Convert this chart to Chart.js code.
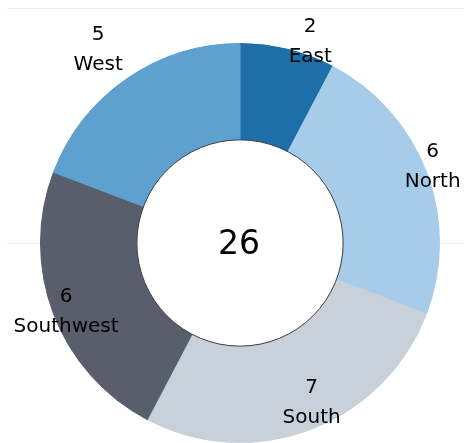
<!DOCTYPE html>
<html lang="en">
<head>
    <meta charset="UTF-8">
    <title>Sales by Region</title>
    <script src="https://cdn.jsdelivr.net/npm/chart.js"></script>
    <style>
        body {
            margin: 0;
            padding: 0;
            background-color: #ffffff;
        }
        .chart-box {
            position: relative;
            width: 464px;
            height: 443px;
        }
    </style>
</head>
<body>
    <div class="chart-box">
        <canvas id="regionChart"></canvas>
    </div>

    <script>
        // Data
        const regions = ['East', 'North', 'South', 'Southwest', 'West'];
        const counts = [2, 6, 7, 6, 5];
        const sliceColors = ['#1c6fa8', '#a6cce9', '#c8d0da', '#585e6b', '#5ea1ce'];

        // label placement tweaks (distance from centre, angle shift in degrees)
        const labelRadius = [213, 207, 175, 187, 240];
        const labelShift = [5.4, -0.7, -3.4, -0.8, -1.6];

        const fontFamily = '"DejaVu Sans", Verdana, sans-serif';

        // faint horizontal rules behind the chart
        const backgroundRules = {
            id: 'backgroundRules',
            beforeDraw(chart) {
                const ctx = chart.ctx;
                ctx.save();
                ctx.strokeStyle = '#eeeeee';
                ctx.lineWidth = 1;
                [8.5, 243.5].forEach(y => {
                    ctx.beginPath();
                    ctx.moveTo(7, y);
                    ctx.lineTo(chart.width, y);
                    ctx.stroke();
                });
                ctx.restore();
            }
        };

        // white hole with a thin outline, total in the middle, slice labels
        const doughnutText = {
            id: 'doughnutText',
            afterDatasetsDraw(chart) {
                const ctx = chart.ctx;
                const arcs = chart.getDatasetMeta(0).data;
                if (!arcs.length) return;
                const cx = arcs[0].x;
                const cy = arcs[0].y;
                const inner = arcs[0].innerRadius;

                ctx.save();
                ctx.beginPath();
                ctx.arc(cx, cy, inner, 0, Math.PI * 2);
                ctx.fillStyle = '#ffffff';
                ctx.fill();
                ctx.strokeStyle = '#3a3a3a';
                ctx.lineWidth = 1;
                ctx.stroke();

                const total = counts.reduce((a, b) => a + b, 0);
                ctx.fillStyle = '#000000';
                ctx.textAlign = 'center';
                ctx.textBaseline = 'middle';
                ctx.font = '33px ' + fontFamily;
                ctx.fillText(String(total), cx - 1, cy + 2);

                ctx.font = '20px ' + fontFamily;
                arcs.forEach((arc, i) => {
                    const mid = (arc.startAngle + arc.endAngle) / 2 + labelShift[i] * Math.PI / 180;
                    const x = cx + Math.cos(mid) * labelRadius[i];
                    const y = cy + Math.sin(mid) * labelRadius[i];
                    ctx.fillText(String(counts[i]), x, y - 15);
                    ctx.fillText(regions[i], x, y + 15);
                });
                ctx.restore();
            }
        };

        const ctxRegion = document.getElementById('regionChart').getContext('2d');
        const regionChart = new Chart(ctxRegion, {
            type: 'doughnut',
            data: {
                labels: regions,
                datasets: [{
                    data: counts,
                    backgroundColor: sliceColors,
                    borderColor: sliceColors,
                    borderWidth: 1
                }]
            },
            options: {
                responsive: true,
                maintainAspectRatio: false,
                animation: false,
                cutout: '51.7%',
                layout: {
                    padding: { left: 40, right: 24, top: 43, bottom: 0 }
                },
                plugins: {
                    legend: { display: false },
                    tooltip: { enabled: false }
                }
            },
            plugins: [backgroundRules, doughnutText]
        });
    </script>
</body>
</html>
